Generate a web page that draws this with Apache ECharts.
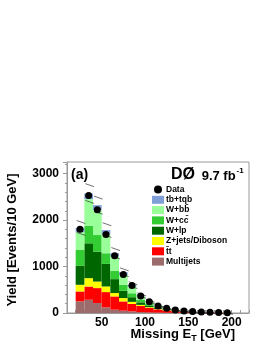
<!DOCTYPE html>
<html><head><meta charset="utf-8">
<script src="https://cdn.jsdelivr.net/npm/echarts@6/dist/echarts.min.js"></script>
<style>html,body{margin:0;padding:0;background:#fff}#c{width:270px;height:349px}</style>
</head><body><div id="c"></div>
<script>
// bin low edges (GeV), width 10
const binLow = [20,30,40,50,60,70,80,90,100,110,120,130,140,150,160,170,180,190];
const binWidth = 10;
// stacked backgrounds, bottom to top
const multijets = [250,285,214,121,71,50,35,20,12,8,5,3,2,1,1,1,0,0];
const ttbar     = [214,285,322,329,286,200,160,130,100,70,50,35,25,17,12,8,6,4];
const zjets     = [143,180,141,121,72,71,45,25,15,10,7,5,3,2,1,1,1,0];
const wlp       = [407,750,643,486,300,157,100,55,35,20,12,8,5,3,2,1,1,1];
const wcc       = [343,377,358,229,178,129,85,50,30,17,10,6,4,3,2,1,1,1];
const wbb       = [383,573,536,407,307,214,140,80,45,25,15,9,6,4,3,2,1,1];
const tbtqb     = [90,121,107,92,72,57,35,15,10,6,4,3,2,1,1,1,0,0];
const dataVals  = [1800,2530,2220,1690,1230,830,590,365,240,150,100,65,45,30,20,15,10,8];
const uncFrac = 0.07;
const yTicks = [0,1000,2000,3000];
const xTicks = [50,100,150,200];

const comps = [
  {name:'Multijets', vals:multijets, color:'#9c6b6b'},
  {name:'t\u0304t', vals:ttbar, color:'#ff0000'},
  {name:'Z+jets/Diboson', vals:zjets, color:'#ffff00'},
  {name:'W+lp', vals:wlp, color:'#006600'},
  {name:'W+cc\u0304', vals:wcc, color:'#33cc33'},
  {name:'W+bb\u0304', vals:wbb, color:'#99ff99'},
  {name:'tb+tqb', vals:tbtqb, color:'#7f9fd6'}
];

const cum = binLow.map(()=>0);
const series = [];
comps.forEach(c => {
  const d = binLow.map((lo,i) => {
    const base = cum[i]; cum[i] += c.vals[i];
    return [lo, lo+binWidth, base, cum[i]];
  });
  series.push({
    name:c.name, type:'custom', itemStyle:{color:c.color},
    encode:{x:[0,1], y:[2,3]},
    renderItem:(params, api) => {
      const p0 = api.coord([api.value(0), api.value(3)]);
      const p1 = api.coord([api.value(1), api.value(2)]);
      return {type:'rect', shape:{x:p0[0], y:p0[1], width:p1[0]-p0[0], height:p1[1]-p0[1]},
        style:{fill:c.color}};
    },
    data:d, z:2
  });
});
const totals = cum.slice();
// uncertainty hatch
series.push({
  type:'custom', silent:true, z:3,
  encode:{x:[0,1], y:[2]},
  renderItem:(params, api) => {
    const lo = api.value(0), hi = api.value(1), t = api.value(2);
    const e = t*uncFrac;
    const children = [];
    [t+e, t-e].forEach(v => {
      const a = api.coord([lo, v]); const b = api.coord([hi, v]);
      children.push({type:'line', shape:{x1:a[0]+1, y1:a[1]-1.5, x2:b[0]+1, y2:b[1]+1.5},
        style:{stroke:'#333', lineWidth:0.7}});
    });
    return {type:'group', children};
  },
  data: binLow.map((lo,i)=>[lo, lo+binWidth, totals[i]])
});
series.push({
  name:'Data', type:'scatter', symbol:'circle', symbolSize:7,
  itemStyle:{color:'#000', opacity:1}, z:5,
  data: binLow.map((lo,i)=>[lo+binWidth/2, dataVals[i]])
});

const chart = echarts.init(document.getElementById('c'), null, {renderer:'canvas'});
const font = 'Liberation Sans, Arial, Helvetica, sans-serif';
chart.setOption({
  animation:false,
  grid:{left:67, right:21, top:162, bottom:36, show:true, borderColor:'#999', borderWidth:1, backgroundColor:'transparent'},
  xAxis:{type:'value', min:10, max:220, interval:10,
    axisLine:{show:true, lineStyle:{color:'#999'}},
    axisTick:{show:true, inside:true, length:3, lineStyle:{color:'#999'}},
    splitLine:{show:false},
    axisLabel:{color:'#000', fontFamily:font, fontWeight:'bold', fontSize:12, margin:4,
      formatter:v => xTicks.indexOf(v) >= 0 ? String(v) : ''}
  },
  yAxis:{type:'value', min:0, max:3250, interval:1000,
    axisLine:{show:true, lineStyle:{color:'#999'}},
    axisTick:{show:true, inside:false, length:4, lineStyle:{color:'#999'}},
    minorTick:{show:true, splitNumber:5, length:2, lineStyle:{color:'#999'}},
    splitLine:{show:false},
    axisLabel:{color:'#000', fontFamily:font, fontWeight:'bold', fontSize:12, margin:8,
      showMaxLabel:false, formatter:v => yTicks.indexOf(v) >= 0 ? String(v) : ''}
  },
  legend:{orient:'vertical', left:147, top:180, itemWidth:12, itemHeight:8, itemGap:1.3,
    textStyle:{fontFamily:font, fontWeight:'bold', fontSize:8.5, color:'#000', padding:[0,0,0,-3]},
    data:[{name:'Data', icon:'circle', itemStyle:{opacity:1}},
      ...comps.slice().reverse().map(c=>({name:c.name, icon:'rect'}))]
  },
  graphic:[
    {type:'text', left:71, top:168, style:{text:'(a)', font:'bold 14px '+font, fill:'#000'}},
    {type:'text', left:171, top:167, style:{text:'{a|DØ}  {b|9.7 fb}{c|-1}',
      rich:{a:{font:'bold 16px '+font, fill:'#000', verticalAlign:'bottom'},
            b:{font:'bold 13px '+font, fill:'#000', verticalAlign:'bottom'},
            c:{font:'bold 8px '+font, fill:'#000', verticalAlign:'top', padding:[0,0,8,1]}}}},
    {type:'text', right:35, top:328, style:{text:'Missing E{s|T} [GeV]',
      font:'bold 13px '+font, fill:'#000',
      rich:{s:{font:'bold 9px '+font, fill:'#000', padding:[8,0,0,0]}}}},
    {type:'text', x:12, y:240, rotation:Math.PI/2, style:{text:'Yield [Events/10 GeV]',
      font:'bold 13px '+font, fill:'#000', textAlign:'center', textVerticalAlign:'middle'}}
  ],
  series
});
</script></body></html>
